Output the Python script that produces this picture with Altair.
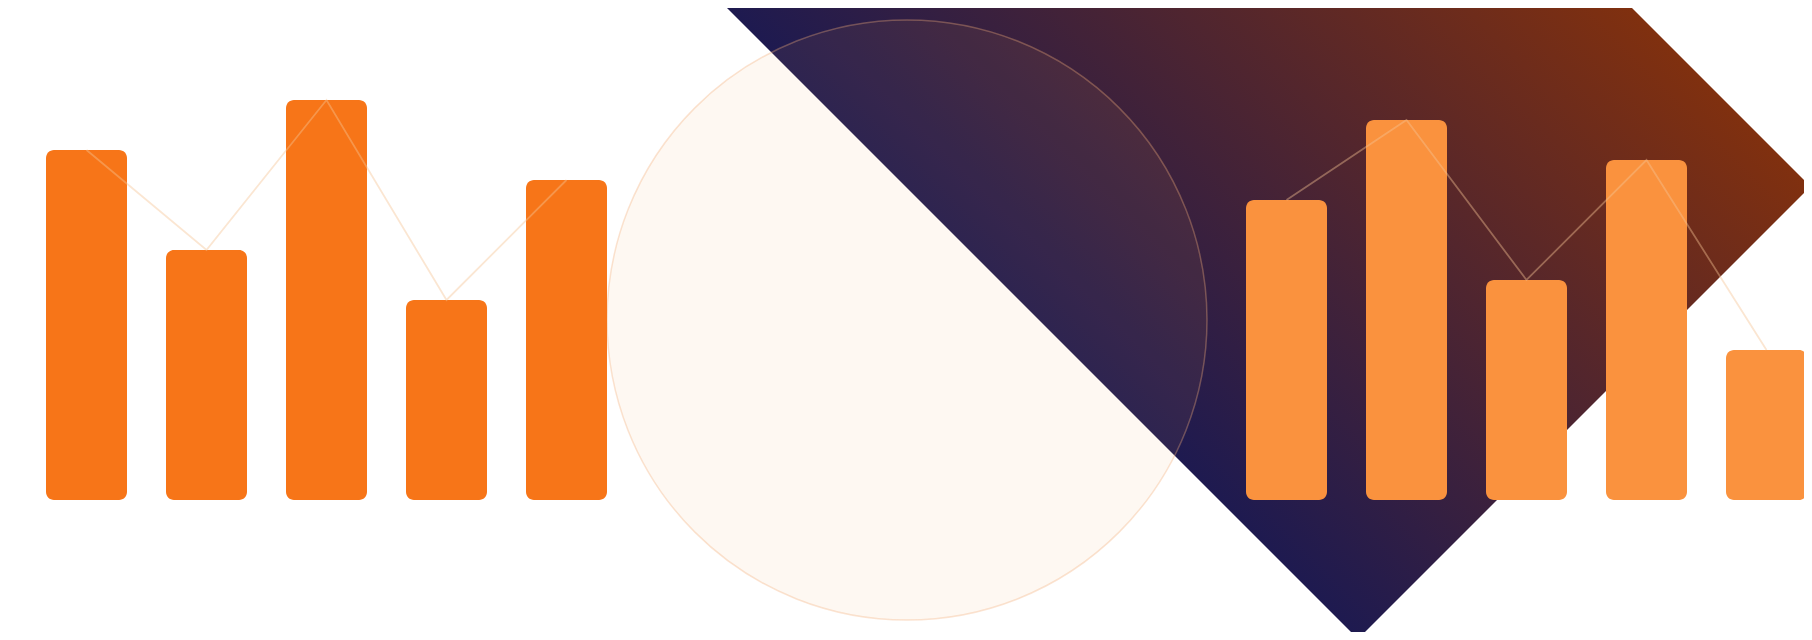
import altair as alt
import pandas as pd

# ---- bar series ----
left_values = [350, 250, 400, 200, 320]
right_values = [300, 380, 220, 340, 150]
left_slots = [0, 1, 2, 3, 4]          # slot order along the shared x axis
right_slots = [10, 11, 12, 13, 14]    # slots 5-9 stay empty behind the circle

# ---- decorative shapes (page pixel units) ----
diamond_x = [619, 1358, 1524, 1810.5]
diamond_top = [-100, -100, -100, 186.5]
diamond_bottom = [-100, 639, 473, 186.5]
circle_x = [907]
circle_y = [320]

W, H = 1796, 624

bars_df = pd.DataFrame({
    "slot": left_slots + right_slots,
    "value": left_values + right_values,
    "group": ["left"] * 5 + ["right"] * 5,
})
diamond_df = pd.DataFrame({"x": diamond_x, "top": diamond_top, "bottom": diamond_bottom})
circle_df = pd.DataFrame({"x": circle_x, "y": circle_y})

canvas_x = alt.Scale(domain=[8, 8 + W], nice=False, zero=False)
canvas_y = alt.Scale(domain=[8, 8 + H], nice=False, zero=False, reverse=True)

slot_x = alt.Scale(domain=[0, 14], range=[78.5, 1758.5], nice=False, zero=False)
val_y = alt.Scale(domain=[0, 400], range=[492, 92], nice=False)

gradient = alt.Gradient(
    gradient="linear",
    stops=[alt.GradientStop(color="#1E1A50", offset=0),
           alt.GradientStop(color="#80300F", offset=1)],
    x1=0.3102, y1=0.5, x2=0.8587, y2=0.1598,
)

diamond = alt.Chart(diamond_df).mark_area(color=gradient, clip=True).encode(
    x=alt.X("x:Q", scale=canvas_x, axis=None),
    y=alt.Y("top:Q", scale=canvas_y, axis=None),
    y2="bottom:Q",
)

circle = alt.Chart(circle_df).mark_point(
    shape="circle", filled=True, size=360000, opacity=1,
    fill="#F5A05A", fillOpacity=0.08,
    stroke="#F3B07C", strokeOpacity=0.35, strokeWidth=1.5, clip=True,
).encode(
    x=alt.X("x:Q", scale=canvas_x, axis=None),
    y=alt.Y("y:Q", scale=canvas_y, axis=None),
)

bars = alt.Chart(bars_df).transform_calculate(
    x_lo="datum.slot - 0.3375", x_hi="datum.slot + 0.3375", base="0"
).mark_rect(cornerRadius=8).encode(
    x=alt.X("x_lo:Q", scale=slot_x, axis=None),
    x2="x_hi:Q",
    y=alt.Y("value:Q", scale=val_y, axis=None),
    y2="base:Q",
    fill=alt.Fill("group:N", scale=alt.Scale(domain=["left", "right"],
                                             range=["#F77518", "#FA923E"]), legend=None),
)

lines = alt.Chart(bars_df).mark_line(
    strokeWidth=1.8, clip=True, color="#F5C394", opacity=0.42
).encode(
    x=alt.X("slot:Q", scale=slot_x, axis=None),
    y=alt.Y("value:Q", scale=val_y, axis=None),
    detail="group:N",
)

chart = alt.layer(diamond, circle, bars, lines).resolve_scale(
    x="independent", y="independent", fill="independent"
).properties(
    width=W, height=H, padding=0,
    autosize=alt.AutoSizeParams(type="none"),
    background="white",
).configure_view(stroke=None)

chart.save("out.html", embed_options={"renderer": "svg", "actions": False})
